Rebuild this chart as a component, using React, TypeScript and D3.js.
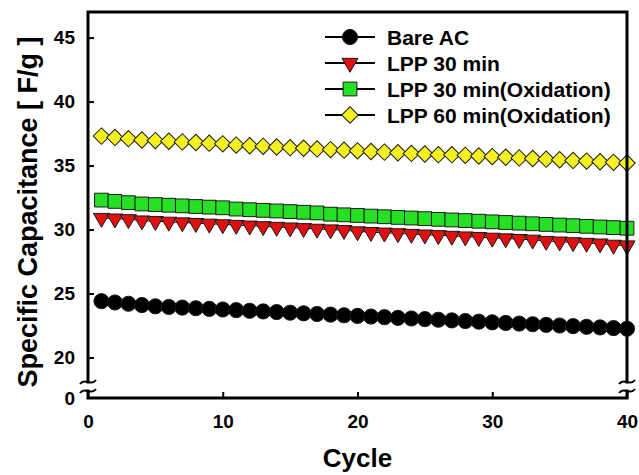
import React, { useEffect, useRef } from 'react'
import * as d3 from 'd3'

// cycle numbers and capacitance (F/g)
const cycles = [1, 2, 3, 4, 5, 6, 7, 8, 9, 10, 11, 12, 13, 14, 15, 16, 17, 18, 19, 20,
  21, 22, 23, 24, 25, 26, 27, 28, 29, 30, 31, 32, 33, 34, 35, 36, 37, 38, 39, 40]

const bareAC = [24.4, 24.3, 24.2, 24.1, 24.0, 23.95, 23.9, 23.85, 23.8, 23.75, 23.7, 23.65, 23.6, 23.55, 23.5, 23.45, 23.4, 23.35, 23.3, 23.25,
  23.2, 23.15, 23.1, 23.05, 23.0, 22.95, 22.9, 22.85, 22.8, 22.75, 22.7, 22.65, 22.6, 22.55, 22.5, 22.45, 22.4, 22.35, 22.3, 22.25]

const lpp30 = [30.9, 30.85, 30.8, 30.7, 30.65, 30.6, 30.55, 30.5, 30.45, 30.4, 30.35, 30.3, 30.25, 30.2, 30.15, 30.1, 30.05, 30.0, 29.95, 29.85,
  29.8, 29.75, 29.7, 29.65, 29.6, 29.55, 29.5, 29.45, 29.4, 29.35, 29.3, 29.25, 29.2, 29.1, 29.05, 29.0, 28.95, 28.9, 28.8, 28.75]

const lpp30ox = [32.3, 32.2, 32.1, 32.0, 31.95, 31.9, 31.85, 31.8, 31.75, 31.7, 31.6, 31.55, 31.5, 31.45, 31.4, 31.35, 31.3, 31.2, 31.15, 31.1,
  31.05, 31.0, 30.95, 30.9, 30.85, 30.8, 30.75, 30.7, 30.65, 30.6, 30.55, 30.5, 30.45, 30.4, 30.35, 30.3, 30.25, 30.2, 30.15, 30.1]

const lpp60ox = [37.3, 37.2, 37.1, 37.0, 36.95, 36.9, 36.85, 36.8, 36.75, 36.7, 36.6, 36.55, 36.5, 36.45, 36.4, 36.35, 36.3, 36.25, 36.2, 36.15,
  36.1, 36.05, 36.0, 35.95, 35.9, 35.85, 35.85, 35.8, 35.75, 35.7, 35.65, 35.6, 35.55, 35.5, 35.45, 35.4, 35.35, 35.3, 35.25, 35.2]

const xTicks = [0, 10, 20, 30, 40]
const yTicks = [20, 25, 30, 35, 40, 45]
const yBreakLabel = '0'
const seriesNames = ['Bare AC', 'LPP 30 min', 'LPP 30 min(Oxidation)', 'LPP 60 min(Oxidation)']

const FONT = 'Arial, "Liberation Sans", sans-serif'

export default function App() {
  const ref = useRef<SVGSVGElement>(null)

  useEffect(() => {
    const el = ref.current
    if (!el) return
    const width = 639
    const height = 475
    const left = 88
    const right = 627
    const top = 12
    const bottom = 398

    const svg = d3.select(el)
    svg.selectAll('*').remove()

    const x = d3.scaleLinear().domain([0, 40]).range([left, right])
    const y = d3.scaleLinear().domain([20, 47]).range([357.5, top])

    const series = [
      { name: seriesNames[0], values: bareAC, sym: d3.symbolCircle, size: 180, rot: 0, fill: '#000000' },
      { name: seriesNames[1], values: lpp30, sym: d3.symbolTriangle, size: 112, rot: 180, fill: '#e01010' },
      { name: seriesNames[2], values: lpp30ox, sym: d3.symbolSquare, size: 190, rot: 0, fill: '#25e025' },
      { name: seriesNames[3], values: lpp60ox, sym: d3.symbolSquare, size: 135, rot: 45, fill: '#f5f020' },
    ]

    const plot = svg.append('g')
    const line = d3.line<number>().x((_, i) => x(cycles[i])).y(d => y(d))

    series.forEach(s => {
      plot.append('path')
        .datum(s.values)
        .attr('fill', 'none')
        .attr('stroke', '#000')
        .attr('stroke-width', 1)
        .attr('d', line)
      plot.selectAll(null)
        .data(s.values)
        .join('path')
        .attr('transform', (d, i) => `translate(${x(cycles[i])},${y(d)}) rotate(${s.rot})`)
        .attr('d', d3.symbol(s.sym, s.size)())
        .attr('fill', s.fill)
        .attr('stroke', '#1a1a1a')
        .attr('stroke-width', 1)
    })

    // axes with inward ticks
    const yAxis = svg.append('g')
      .attr('transform', `translate(${left},0)`)
      .call(d3.axisLeft(y).tickValues(yTicks).tickSize(-6).tickPadding(13).tickFormat(d3.format('d')))
    const xAxis = svg.append('g')
      .attr('transform', `translate(0,${bottom})`)
      .call(d3.axisBottom(x).tickValues(xTicks).tickSize(-6).tickPadding(17).tickFormat(d3.format('d')))

    ;[yAxis, xAxis].forEach(a => {
      a.select('.domain').remove()
      a.selectAll('.tick line').attr('stroke', '#000').attr('stroke-width', 2)
      a.selectAll('.tick text')
        .attr('fill', '#000')
        .style('font-family', FONT)
        .style('font-size', '19px')
        .style('font-weight', 'bold')
    })

    // the "0" below the axis break
    svg.append('text')
      .attr('x', left - 13)
      .attr('y', bottom)
      .attr('dy', '0.35em')
      .attr('text-anchor', 'end')
      .style('font-family', FONT)
      .style('font-size', '19px')
      .style('font-weight', 'bold')
      .text(yBreakLabel)

    // frame with breaks on both vertical sides
    const bTop = 382
    const bBot = 391
    const frame = d3.path()
    frame.moveTo(left, bTop)
    frame.lineTo(left, top)
    frame.lineTo(right, top)
    frame.lineTo(right, bTop)
    frame.moveTo(left, bBot)
    frame.lineTo(left, bottom)
    frame.lineTo(right, bottom)
    frame.lineTo(right, bBot)
    svg.append('path')
      .attr('d', frame.toString())
      .attr('fill', 'none')
      .attr('stroke', '#000')
      .attr('stroke-width', 3)
      .attr('stroke-linecap', 'square')

    ;[left, right].forEach(cx => {
      ;[bTop, bBot].forEach(cy => {
        svg.append('path')
          .attr('d', `M${cx - 8},${cy + 2} C${cx - 3},${cy - 5} ${cx + 3},${cy + 5} ${cx + 8},${cy - 2}`)
          .attr('fill', 'none')
          .attr('stroke', '#000')
          .attr('stroke-width', 2)
      })
    })

    // axis titles
    svg.append('text')
      .attr('transform', `translate(37,${(top + 392) / 2 + 10}) rotate(-90)`)
      .attr('text-anchor', 'middle')
      .style('font-family', FONT)
      .style('font-size', '27px')
      .style('font-weight', 'bold')
      .text('Specific Capacitance [ F/g ]')

    svg.append('text')
      .attr('x', (left + right) / 2)
      .attr('y', 467)
      .attr('text-anchor', 'middle')
      .style('font-family', FONT)
      .style('font-size', '26px')
      .style('font-weight', 'bold')
      .text('Cycle')

    // legend
    const lg = svg.append('g')
    series.forEach((s, i) => {
      const ly = 37 + i * 26
      lg.append('line')
        .attr('x1', 325).attr('x2', 375)
        .attr('y1', ly).attr('y2', ly)
        .attr('stroke', '#000').attr('stroke-width', 2)
      lg.append('path')
        .attr('transform', `translate(350,${ly}) rotate(${s.rot})`)
        .attr('d', d3.symbol(s.sym, s.size)())
        .attr('fill', s.fill)
        .attr('stroke', '#1a1a1a')
        .attr('stroke-width', 1)
      lg.append('text')
        .attr('x', 387)
        .attr('y', ly)
        .attr('dy', '0.36em')
        .style('font-family', FONT)
        .style('font-size', '21px')
        .style('font-weight', 'bold')
        .text(s.name)
    })

    svg.attr('width', width).attr('height', height)
  }, [])

  return (
    <svg
      ref={ref}
      width={639}
      height={475}
      style={{ position: 'absolute', left: 0, top: 0, background: '#fff' }}
    />
  )
}
